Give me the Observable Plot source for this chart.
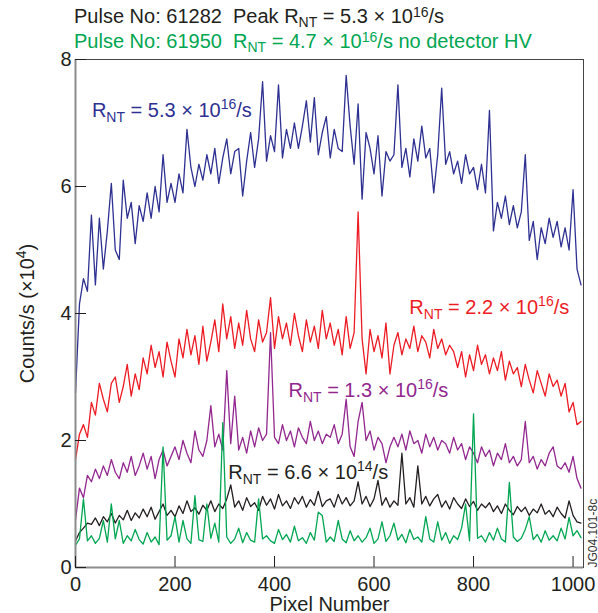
<!DOCTYPE html>
<html><head><meta charset="utf-8">
<script src="https://cdn.jsdelivr.net/npm/d3@7"></script>
<script src="https://cdn.jsdelivr.net/npm/@observablehq/plot@0.6"></script>
<style>
body{margin:0;background:#fff;}
#wrap{position:relative;width:598px;height:613px;font-family:"Liberation Sans",Arial,Helvetica,sans-serif;}
#titles{position:absolute;top:0;left:0;z-index:1;padding-left:74px;box-sizing:border-box;padding-top:4px;font-size:20px;line-height:25px;white-space:pre;}
.sb{font-size:70%;vertical-align:-0.25em;line-height:0}
.sp{font-size:70%;vertical-align:0.45em;line-height:0}
</style></head><body>
<div id="wrap"><div id="titles"></div></div>
<script>
// ---- data (pixel number every 8 pixels; counts/s in units of 1e4) ----
const pixels = d3.range(0, 1024, 8);
const xTicks = [0, 200, 400, 600, 800, 1000];
const yTicks = [0, 2, 4, 6, 8];

const blue53 = [
 2.75,4.15,4.55,4.35,5.55,4.45,5.5,4.7,
 5.3,6.05,5.0,4.85,6.1,5.5,5.75,5.1,
 5.7,5.45,5.9,5.5,6.0,5.6,6.5,5.75,
 6.05,5.75,6.2,5.9,6.9,6.3,6.0,6.35,
 6.1,6.5,6.2,6.6,6.05,6.45,6.75,6.2,
 6.55,6.6,5.85,6.4,6.85,6.3,6.75,7.65,
 6.4,6.8,6.55,7.6,6.45,6.9,6.6,7.0,
 6.6,6.95,7.35,6.7,7.4,6.5,6.85,7.1,
 6.45,6.9,6.6,6.55,7.75,6.95,6.35,7.3,
 5.8,6.85,6.6,6.2,6.8,5.85,6.55,6.4,
 6.5,7.6,6.3,6.6,6.15,6.75,6.4,6.95,
 6.45,6.6,5.9,6.5,7.55,6.35,6.55,6.2,
 6.4,6.05,6.5,6.2,6.3,5.95,6.35,5.9,
 7.2,5.3,5.75,5.5,5.85,5.4,5.7,5.35,
 5.6,6.5,5.15,5.45,4.85,5.35,5.1,5.5,
 5.2,5.45,5.05,5.35,5.0,5.95,4.7,4.45
];
const red22 = [
 1.7,2.1,2.25,2.05,2.6,2.4,2.9,2.65,
 2.45,2.9,3.0,2.6,2.85,3.2,2.7,3.05,
 2.8,3.3,3.05,3.5,3.15,3.4,3.0,3.55,
 3.25,3.0,3.6,3.3,3.75,3.35,3.65,3.2,
 3.8,3.25,3.55,3.9,3.4,4.15,3.6,3.95,
 3.45,3.85,3.5,4.05,3.6,3.4,3.9,3.55,
 3.7,4.25,3.45,3.95,3.6,3.85,3.5,4.0,
 3.65,3.4,3.9,3.55,3.8,3.45,4.05,3.6,
 3.85,3.5,3.75,3.35,3.95,3.45,3.7,5.6,
 3.6,3.05,3.75,3.4,3.65,3.3,3.85,3.05,
 3.5,3.7,3.35,3.6,3.45,3.8,3.4,3.65,
 3.55,3.3,3.75,3.45,3.6,3.35,3.5,3.4,
 3.15,3.4,3.0,3.35,3.1,3.5,3.2,3.35,
 3.05,3.3,3.1,3.4,2.95,3.25,3.05,3.15,
 2.85,3.2,2.95,2.75,3.1,2.9,2.7,3.05,
 2.85,2.95,2.7,2.9,2.45,2.6,2.25,2.3
];
const purple13 = [
 0.75,1.25,1.1,1.45,1.35,1.55,1.4,1.6,
 1.45,1.7,1.5,1.4,1.65,1.5,1.75,1.45,
 1.6,1.8,1.55,1.75,1.4,1.7,1.85,1.6,
 1.75,1.9,1.7,2.0,1.8,1.65,2.15,1.85,
 1.75,2.0,2.55,1.9,2.1,1.85,3.1,1.95,
 2.7,1.85,2.05,1.8,2.15,1.9,2.2,2.0,
 2.1,3.7,2.05,1.95,2.25,2.0,2.15,1.9,
 2.2,2.05,1.95,2.3,2.0,2.15,1.95,2.1,
 2.05,2.25,1.95,2.1,2.65,1.9,1.75,2.3,
 2.6,2.0,2.15,1.85,2.05,1.95,1.65,1.9,
 2.05,1.9,2.1,1.85,2.15,1.95,2.0,1.8,
 2.1,1.9,2.05,1.85,2.0,1.95,1.8,2.05,
 1.85,1.95,1.7,1.9,1.8,1.65,1.9,1.75,
 1.85,1.6,1.8,1.7,1.95,1.65,1.75,1.6,
 1.7,2.3,1.65,1.75,1.55,1.7,1.6,1.8,
 1.9,1.6,1.55,1.65,1.5,1.75,1.4,1.25
];
const black066 = [
 0.42,0.55,0.62,0.7,0.68,0.78,0.66,0.8,
 0.72,0.85,0.7,0.82,0.75,0.9,0.74,0.86,
 0.78,0.92,0.8,0.95,0.76,0.88,1.0,0.82,
 0.9,0.8,0.97,0.85,1.05,0.88,0.94,0.84,
 0.98,0.9,1.05,0.88,1.0,0.93,1.08,1.3,
 0.95,1.05,0.9,1.1,0.96,1.02,0.9,1.12,
 0.98,1.08,0.92,1.15,0.97,1.05,0.93,1.1,
 1.0,1.12,0.95,1.07,0.98,1.2,0.96,1.05,
 1.08,0.95,1.15,1.0,1.1,0.97,1.05,1.35,
 1.0,1.12,0.96,1.08,1.37,0.98,1.1,0.95,
 1.05,0.98,1.8,1.0,1.1,0.95,1.6,1.0,
 1.12,0.97,1.08,1.15,0.95,1.05,0.92,1.1,
 1.0,0.93,1.08,0.96,1.04,0.9,1.0,0.94,
 1.02,0.88,0.97,0.85,1.0,0.9,0.83,0.96,
 0.88,0.95,0.82,0.92,0.86,1.0,0.84,0.9,
 0.8,0.95,0.85,0.78,1.05,0.82,0.72,0.7
];
const greenNoHV = [
 0.35,0.45,1.08,0.42,0.5,0.38,0.46,0.74,
 0.4,1.0,0.45,0.74,0.38,0.5,0.42,0.6,
 0.44,0.37,0.55,0.4,0.48,0.36,1.9,0.43,
 0.5,0.8,0.4,0.74,0.45,0.38,1.13,0.44,
 0.41,1.0,0.46,0.7,0.4,2.28,0.48,0.38,
 0.45,0.62,0.39,0.55,0.43,0.4,1.08,0.45,
 0.5,0.42,0.38,0.6,0.44,0.52,0.4,0.65,
 0.42,0.47,0.38,0.55,0.43,0.87,0.82,0.4,
 0.48,0.41,0.74,0.45,0.39,0.58,0.42,0.5,
 0.4,0.47,0.62,0.38,0.45,0.72,0.41,0.5,
 0.7,0.43,0.52,0.39,0.6,0.44,0.48,0.4,
 0.8,0.45,0.4,0.72,0.43,0.55,0.38,0.5,
 0.44,0.62,1.0,0.42,2.42,0.46,0.5,0.4,
 0.55,0.43,0.62,0.45,0.4,1.34,0.48,0.41,
 0.46,0.6,0.8,0.44,0.52,0.4,0.58,0.43,
 0.5,0.42,0.62,0.45,0.79,0.5,0.58,0.47
];

const seriesNames = ["5.3e16", "2.2e16", "1.3e16", "6.6e14", "noHV"];
const seriesColors = ["#2e3192", "#ed1c24", "#92278f", "#231f20", "#00a651"];
const seriesValues = [blue53, red22, purple13, black066, greenNoHV];

const titleLines = [
  {text: "Pulse No: 61282  Peak R_NT = 5.3 × 10^16/s", color: "#231f20"},
  {text: "Pulse No: 61950  R_NT = 4.7 × 10^16/s no detector HV", color: "#00a651"}
];
const annotations = [
  {label: "R_NT = 5.3 × 10^16/s", x: 33, y: 7.09, color: "#2e3192"},
  {label: "R_NT = 2.2 × 10^16/s", x: 671, y: 4.0, color: "#ed1c24"},
  {label: "R_NT = 1.3 × 10^16/s", x: 428, y: 2.68, color: "#92278f"},
  {label: "R_NT = 6.6 × 10^14/s", x: 307, y: 1.40, color: "#231f20"}
];
const xLabel = "Pixel Number";
const yLabel = "Counts/s (×10^4)";
const codeLabel = "JG04.101-8c";

// ---- helpers ----
const tokenRe = /(_[A-Z]+|\^\d+)/;
function toHTML(s) {
  return s.split(tokenRe).map(p => {
    if (p.startsWith("_")) return `<span class="sb">${p.slice(1)}</span>`;
    if (p.startsWith("^")) return `<span class="sp">${p.slice(1)}</span>`;
    return p;
  }).join("");
}
function richifySVGText(el) {
  const s = el.textContent;
  if (!tokenRe.test(s)) return;
  const fs = parseFloat(getComputedStyle(el).fontSize) || 20;
  const small = fs * 0.7;
  while (el.firstChild) el.removeChild(el.firstChild);
  let shift = 0;
  for (const p of s.split(tokenRe)) {
    if (!p) continue;
    const t = document.createElementNS("http://www.w3.org/2000/svg", "tspan");
    let target = 0, txt = p;
    if (p.startsWith("_")) { target = fs * 0.25; txt = p.slice(1); t.setAttribute("font-size", small); }
    else if (p.startsWith("^")) { target = -fs * 0.4; txt = p.slice(1); t.setAttribute("font-size", small); }
    const d = target - shift;
    if (d) t.setAttribute("dy", d);
    shift = target;
    t.textContent = txt;
    el.appendChild(t);
  }
}

// ---- titles ----
const titles = document.getElementById("titles");
for (const l of titleLines) {
  const d = document.createElement("div");
  d.style.color = l.color;
  d.innerHTML = toHTML(l.text);
  titles.appendChild(d);
}

// ---- chart ----
const lineMarks = seriesValues.map((vals, i) =>
  Plot.line(pixels.map((p, j) => ({pixel: p, counts: vals[j], series: seriesNames[i]})),
    {x: "pixel", y: "counts", stroke: seriesColors[i], strokeWidth: 1.3})
);

const chart = Plot.plot({
  width: 598, height: 613,
  marginLeft: 75, marginRight: 15, marginTop: 59, marginBottom: 46,
  style: {fontSize: "20px", fontFamily: "'Liberation Sans', Arial, Helvetica, sans-serif", color: "#231f20", background: "white"},
  x: {domain: [0, 1021]},
  y: {domain: [0, 8]},
  marks: [
    ...lineMarks,
    Plot.frame({stroke: "#444"}),
    Plot.ruleX([0], {stroke: "#8c8c8c", strokeWidth: 2}),
    Plot.ruleY([0], {stroke: "#8c8c8c", strokeWidth: 2}),
    Plot.axisX(xTicks, {tickSize: -11, tickFormat: "d", label: null}),
    Plot.axisY(yTicks, {tickSize: -11, tickPadding: 15, tickFormat: "d", label: null}),
    ...annotations.map(a => Plot.text([a], {x: "x", y: "y", text: "label", fill: a.color, textAnchor: "start", lineAnchor: "bottom", fontSize: 20})),
    Plot.text([xLabel], {text: d => d, frameAnchor: "bottom", dy: 43, lineAnchor: "bottom", fontSize: 20}),
    Plot.text([yLabel], {text: d => d, frameAnchor: "left", rotate: -90, dx: -42, lineAnchor: "bottom", textAnchor: "middle", fontSize: 20}),
    Plot.text([codeLabel], {text: d => d, frameAnchor: "bottom-right", rotate: -90, dx: 13, lineAnchor: "bottom", textAnchor: "start", fontSize: 12, fill: "#333"})
  ]
});
chart.style.position = "absolute";
chart.style.top = "0";
chart.style.left = "0";
document.getElementById("wrap").appendChild(chart);
chart.querySelectorAll("text").forEach(richifySVGText);
</script>
</body></html>
